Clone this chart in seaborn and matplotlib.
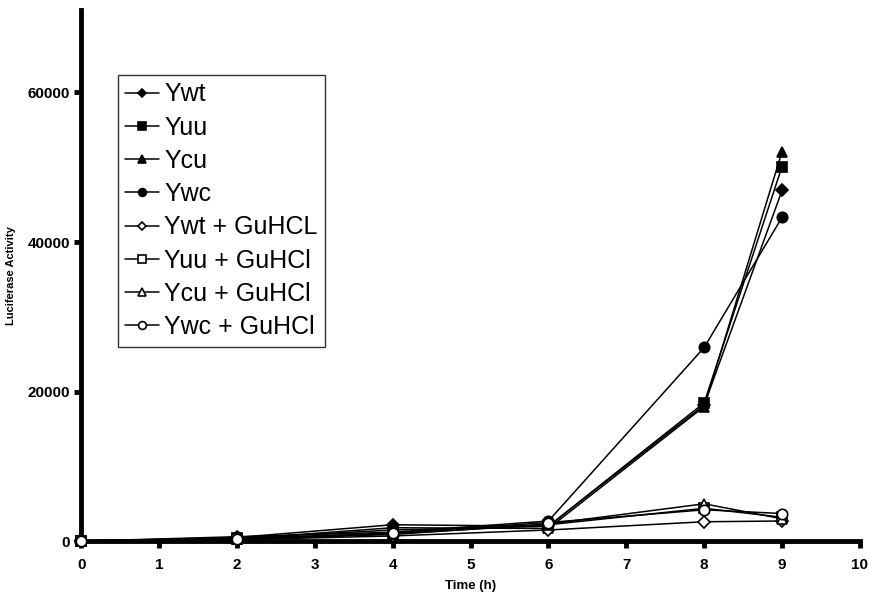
import numpy as np
import pandas as pd
import matplotlib
matplotlib.use("Agg")
import matplotlib.pyplot as plt
import seaborn as sns

# Data
time_h = [0, 2, 4, 6, 8, 9]
ywt = [0, 500, 2200, 2000, 18200, 46900]
yuu = [0, 400, 1500, 2000, 18500, 50100]
ycu = [0, 300, 1800, 1700, 18000, 52100]
ywc = [0, 600, 1200, 2700, 25900, 43300]
ywt_gu = [0, 200, 700, 1500, 2600, 2700]
yuu_gu = [0, 300, 1000, 2200, 4400, 3200]
ycu_gu = [0, 250, 900, 2300, 5000, 3000]
ywc_gu = [0, 350, 1100, 2500, 4200, 3700]

labels = ["Ywt", "Yuu", "Ycu", "Ywc",
          "Ywt + GuHCL", "Yuu + GuHCl", "Ycu + GuHCl", "Ywc + GuHCl"]
series = [ywt, yuu, ycu, ywc, ywt_gu, yuu_gu, ycu_gu, ywc_gu]
markers = ["D", "s", "^", "o", "D", "s", "^", "o"]
filled = [True, True, True, True, False, False, False, False]

sns.set_style("white")
plt.rcParams['font.family'] = ['Liberation Sans', 'DejaVu Sans']
plt.rcParams['text.color'] = 'black'
plt.rcParams['axes.labelcolor'] = 'black'

fig = plt.figure(figsize=(8.73, 6), dpi=100)
ax = fig.add_axes([0.093, 0.098, 0.892, 0.885])

for lab, vals, m, f in zip(labels, series, markers, filled):
    ms = 6 if m == "D" else 7.5
    sns.lineplot(x=time_h, y=vals, ax=ax, color="black", linewidth=1.1,
                 marker=m, markersize=ms,
                 markerfacecolor="black" if f else "white",
                 markeredgecolor="black", markeredgewidth=1.2,
                 label=lab, clip_on=False, zorder=3)

ax.set_xlim(0, 10)
ax.set_ylim(0, 71000)
ax.set_xticks(range(0, 11))
ax.set_yticks([0, 20000, 40000, 60000])

for s in ["top", "right"]:
    ax.spines[s].set_visible(False)
for s in ["left", "bottom"]:
    ax.spines[s].set_linewidth(3.5)
    ax.spines[s].set_color("black")

ax.tick_params(axis="both", direction="out", length=5, width=3.5,
               labelsize=11, colors="black", bottom=True, left=True)
ax.tick_params(axis="x", pad=7)
ax.tick_params(axis="y", pad=3)
for t in ax.get_xticklabels() + ax.get_yticklabels():
    t.set_fontweight("bold")

ax.set_xlabel("Time (h)", fontsize=9.5, fontweight="bold", labelpad=6)
ax.set_ylabel("Luciferase Activity", fontsize=8, fontweight="bold", labelpad=8)

leg = ax.legend(loc="upper left", bbox_to_anchor=(0.047, 0.878), fontsize=18,
                frameon=True, fancybox=False, edgecolor="black",
                handlelength=1.35, handletextpad=0.2, labelspacing=0.37,
                borderpad=0.3, borderaxespad=0, markerscale=0.75,
                labelcolor="black")
leg.get_frame().set_linewidth(1.0)

fig.savefig("out.png", dpi=100, facecolor="white")
